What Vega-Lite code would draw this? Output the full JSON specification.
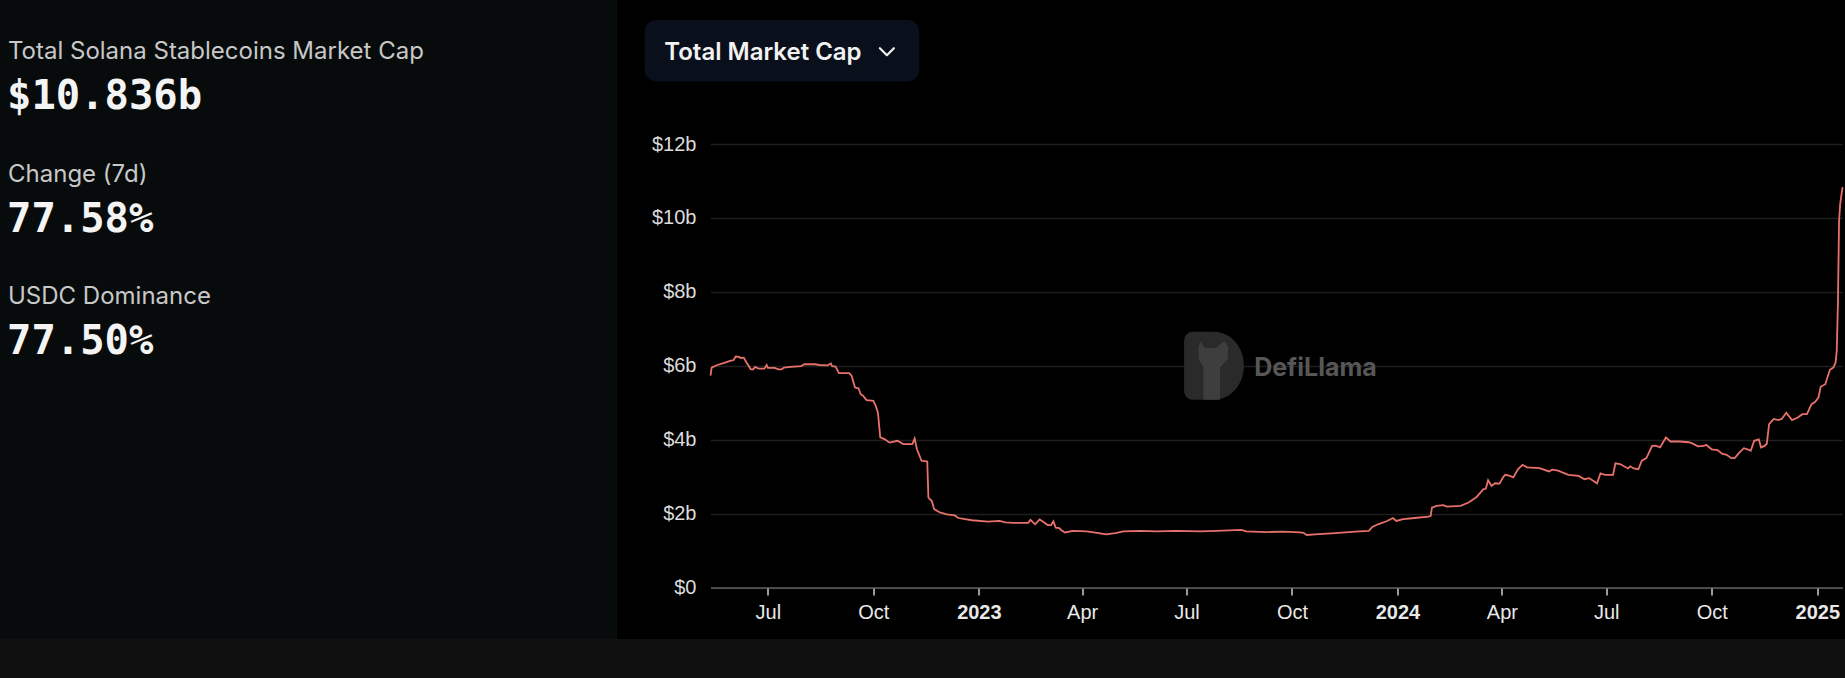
{
  "$schema": "https://vega.github.io/schema/vega-lite/v6.json",
  "background": "#000000",
  "padding": 0,
  "spacing": 0,
  "config": {
    "view": {"stroke": null},
    "concat": {"spacing": 0},
    "font": "Liberation Sans"
  },
  "vconcat": [
    {
      "spacing": 27.5,
      "hconcat": [
        {
          "width": 617,
          "height": 639,
          "view": {"fill": "#070b0b", "stroke": null},
          "data": {
            "values": [
              {"metric": "Total Solana Stablecoins Market Cap", "value": "$10.836b"},
              {"metric": "Change (7d)", "value": "77.58%"},
              {"metric": "USDC Dominance", "value": "77.50%"}
            ]
          },
          "layer": [
            {
              "mark": {"type": "text", "align": "left", "baseline": "alphabetic", "font": "Inter", "fontSize": 24, "fill": "#c8c8c8"},
              "encoding": {
                "y": {"field": "metric", "type": "nominal", "sort": null, "scale": {"type": "point", "padding": 0, "range": [59.3, 304.3]}, "axis": null},
                "x": {"value": 8},
                "text": {"field": "metric"}
              }
            },
            {
              "mark": {"type": "text", "align": "left", "baseline": "alphabetic", "font": "DejaVu Sans Mono", "fontSize": 40.5, "fontWeight": "bold", "fill": "#f4f4f4", "dy": 50},
              "encoding": {
                "y": {"field": "metric", "type": "nominal", "sort": null, "axis": null},
                "x": {"value": 7},
                "text": {"field": "value"}
              }
            }
          ]
        },
        {
          "spacing": 0,
          "vconcat": [
            {"width": 10, "height": 19.3, "data": {"values": []}, "mark": "point"},
            {
              "width": 274.8,
              "height": 61.4,
              "view": {"fill": "#0a0f1c", "cornerRadius": 12, "stroke": null},
              "data": {"values": [{"label": "Total Market Cap"}]},
              "layer": [
                {
                  "mark": {"type": "text", "align": "center", "baseline": "alphabetic", "dx": -19, "dy": 9, "font": "Inter", "fontSize": 24, "fontWeight": 600, "fill": "#f2f2f2"},
                  "encoding": {"text": {"field": "label"}}
                },
                {
                  "mark": {"type": "point", "shape": "M-1,-0.5L0,0.5L1,-0.5", "size": 196, "filled": false, "stroke": "#f2f2f2", "strokeWidth": 2.2, "opacity": 1, "xOffset": 105, "yOffset": 1, "strokeCap": "round", "strokeJoin": "round"},
                  "encoding": {}
                }
              ]
            },
            {"width": 10, "height": 51.6, "data": {"values": []}, "mark": "point"},
            {
              "spacing": 0,
              "hconcat": [
                {"width": 1, "height": 1, "data": {"values": []}, "mark": "point"},
                {
                  "width": 1132,
                  "height": 443.5,
                  "data": {
                    "values": [
                      {"date": "2022-05-12", "usd_bn": 5.73},
                      {"date": "2022-05-13", "usd_bn": 5.95},
                      {"date": "2022-05-18", "usd_bn": 6.02},
                      {"date": "2022-05-24", "usd_bn": 6.08},
                      {"date": "2022-05-29", "usd_bn": 6.13},
                      {"date": "2022-06-01", "usd_bn": 6.15},
                      {"date": "2022-06-03", "usd_bn": 6.25},
                      {"date": "2022-06-06", "usd_bn": 6.24},
                      {"date": "2022-06-07", "usd_bn": 6.21},
                      {"date": "2022-06-10", "usd_bn": 6.22},
                      {"date": "2022-06-12", "usd_bn": 6.11},
                      {"date": "2022-06-16", "usd_bn": 5.91},
                      {"date": "2022-06-18", "usd_bn": 5.90},
                      {"date": "2022-06-20", "usd_bn": 5.97},
                      {"date": "2022-06-23", "usd_bn": 5.92},
                      {"date": "2022-06-28", "usd_bn": 5.92},
                      {"date": "2022-06-30", "usd_bn": 6.02},
                      {"date": "2022-07-01", "usd_bn": 5.94},
                      {"date": "2022-07-07", "usd_bn": 5.94},
                      {"date": "2022-07-10", "usd_bn": 5.90},
                      {"date": "2022-07-13", "usd_bn": 5.90},
                      {"date": "2022-07-15", "usd_bn": 5.95},
                      {"date": "2022-07-21", "usd_bn": 5.97},
                      {"date": "2022-07-30", "usd_bn": 5.99},
                      {"date": "2022-08-02", "usd_bn": 6.04},
                      {"date": "2022-08-11", "usd_bn": 6.04},
                      {"date": "2022-08-15", "usd_bn": 6.02},
                      {"date": "2022-08-22", "usd_bn": 6.01},
                      {"date": "2022-08-25", "usd_bn": 6.06},
                      {"date": "2022-08-26", "usd_bn": 5.99},
                      {"date": "2022-08-29", "usd_bn": 5.98},
                      {"date": "2022-09-01", "usd_bn": 5.80},
                      {"date": "2022-09-04", "usd_bn": 5.80},
                      {"date": "2022-09-10", "usd_bn": 5.80},
                      {"date": "2022-09-12", "usd_bn": 5.73},
                      {"date": "2022-09-15", "usd_bn": 5.41},
                      {"date": "2022-09-18", "usd_bn": 5.39},
                      {"date": "2022-09-20", "usd_bn": 5.23},
                      {"date": "2022-09-22", "usd_bn": 5.19},
                      {"date": "2022-09-25", "usd_bn": 5.07},
                      {"date": "2022-10-01", "usd_bn": 5.05},
                      {"date": "2022-10-03", "usd_bn": 4.92},
                      {"date": "2022-10-05", "usd_bn": 4.73},
                      {"date": "2022-10-07", "usd_bn": 4.06},
                      {"date": "2022-10-11", "usd_bn": 4.01},
                      {"date": "2022-10-15", "usd_bn": 3.92},
                      {"date": "2022-10-22", "usd_bn": 3.97},
                      {"date": "2022-10-27", "usd_bn": 3.88},
                      {"date": "2022-11-04", "usd_bn": 3.88},
                      {"date": "2022-11-06", "usd_bn": 4.03},
                      {"date": "2022-11-08", "usd_bn": 3.74},
                      {"date": "2022-11-12", "usd_bn": 3.43},
                      {"date": "2022-11-17", "usd_bn": 3.41},
                      {"date": "2022-11-18", "usd_bn": 2.43},
                      {"date": "2022-11-21", "usd_bn": 2.34},
                      {"date": "2022-11-23", "usd_bn": 2.12},
                      {"date": "2022-11-28", "usd_bn": 2.03},
                      {"date": "2022-12-04", "usd_bn": 1.98},
                      {"date": "2022-12-11", "usd_bn": 1.95},
                      {"date": "2022-12-14", "usd_bn": 1.88},
                      {"date": "2022-12-26", "usd_bn": 1.82},
                      {"date": "2023-01-09", "usd_bn": 1.78},
                      {"date": "2023-01-19", "usd_bn": 1.80},
                      {"date": "2023-01-24", "usd_bn": 1.76},
                      {"date": "2023-01-31", "usd_bn": 1.75},
                      {"date": "2023-02-13", "usd_bn": 1.75},
                      {"date": "2023-02-15", "usd_bn": 1.83},
                      {"date": "2023-02-19", "usd_bn": 1.71},
                      {"date": "2023-02-23", "usd_bn": 1.84},
                      {"date": "2023-02-26", "usd_bn": 1.78},
                      {"date": "2023-03-02", "usd_bn": 1.69},
                      {"date": "2023-03-05", "usd_bn": 1.69},
                      {"date": "2023-03-07", "usd_bn": 1.79},
                      {"date": "2023-03-09", "usd_bn": 1.62},
                      {"date": "2023-03-12", "usd_bn": 1.61},
                      {"date": "2023-03-14", "usd_bn": 1.55},
                      {"date": "2023-03-17", "usd_bn": 1.49},
                      {"date": "2023-03-24", "usd_bn": 1.53},
                      {"date": "2023-04-05", "usd_bn": 1.52},
                      {"date": "2023-04-14", "usd_bn": 1.48},
                      {"date": "2023-04-22", "usd_bn": 1.44},
                      {"date": "2023-04-30", "usd_bn": 1.47},
                      {"date": "2023-05-07", "usd_bn": 1.52},
                      {"date": "2023-05-21", "usd_bn": 1.53},
                      {"date": "2023-06-05", "usd_bn": 1.52},
                      {"date": "2023-06-22", "usd_bn": 1.53},
                      {"date": "2023-07-13", "usd_bn": 1.52},
                      {"date": "2023-07-27", "usd_bn": 1.53},
                      {"date": "2023-08-18", "usd_bn": 1.56},
                      {"date": "2023-08-22", "usd_bn": 1.52},
                      {"date": "2023-09-09", "usd_bn": 1.50},
                      {"date": "2023-09-23", "usd_bn": 1.51},
                      {"date": "2023-10-08", "usd_bn": 1.49},
                      {"date": "2023-10-11", "usd_bn": 1.48},
                      {"date": "2023-10-14", "usd_bn": 1.42},
                      {"date": "2023-10-21", "usd_bn": 1.44},
                      {"date": "2023-11-08", "usd_bn": 1.47},
                      {"date": "2023-11-25", "usd_bn": 1.51},
                      {"date": "2023-12-07", "usd_bn": 1.53},
                      {"date": "2023-12-10", "usd_bn": 1.64},
                      {"date": "2023-12-15", "usd_bn": 1.71},
                      {"date": "2023-12-23", "usd_bn": 1.80},
                      {"date": "2023-12-28", "usd_bn": 1.88},
                      {"date": "2023-12-31", "usd_bn": 1.80},
                      {"date": "2024-01-06", "usd_bn": 1.85},
                      {"date": "2024-01-16", "usd_bn": 1.88},
                      {"date": "2024-01-28", "usd_bn": 1.92},
                      {"date": "2024-01-30", "usd_bn": 1.94},
                      {"date": "2024-01-31", "usd_bn": 2.16},
                      {"date": "2024-02-04", "usd_bn": 2.21},
                      {"date": "2024-02-10", "usd_bn": 2.23},
                      {"date": "2024-02-13", "usd_bn": 2.19},
                      {"date": "2024-02-25", "usd_bn": 2.21},
                      {"date": "2024-03-03", "usd_bn": 2.30},
                      {"date": "2024-03-10", "usd_bn": 2.45},
                      {"date": "2024-03-16", "usd_bn": 2.66},
                      {"date": "2024-03-18", "usd_bn": 2.67},
                      {"date": "2024-03-20", "usd_bn": 2.90},
                      {"date": "2024-03-23", "usd_bn": 2.75},
                      {"date": "2024-03-26", "usd_bn": 2.82},
                      {"date": "2024-03-30", "usd_bn": 2.81},
                      {"date": "2024-04-02", "usd_bn": 2.98},
                      {"date": "2024-04-04", "usd_bn": 3.05},
                      {"date": "2024-04-08", "usd_bn": 3.02},
                      {"date": "2024-04-11", "usd_bn": 2.98},
                      {"date": "2024-04-15", "usd_bn": 3.20},
                      {"date": "2024-04-19", "usd_bn": 3.32},
                      {"date": "2024-04-23", "usd_bn": 3.25},
                      {"date": "2024-05-04", "usd_bn": 3.23},
                      {"date": "2024-05-12", "usd_bn": 3.14},
                      {"date": "2024-05-15", "usd_bn": 3.19},
                      {"date": "2024-05-20", "usd_bn": 3.16},
                      {"date": "2024-05-29", "usd_bn": 3.05},
                      {"date": "2024-06-07", "usd_bn": 3.02},
                      {"date": "2024-06-12", "usd_bn": 2.93},
                      {"date": "2024-06-16", "usd_bn": 2.96},
                      {"date": "2024-06-23", "usd_bn": 2.82},
                      {"date": "2024-06-26", "usd_bn": 3.09},
                      {"date": "2024-06-30", "usd_bn": 3.05},
                      {"date": "2024-07-07", "usd_bn": 3.05},
                      {"date": "2024-07-09", "usd_bn": 3.36},
                      {"date": "2024-07-13", "usd_bn": 3.34},
                      {"date": "2024-07-20", "usd_bn": 3.22},
                      {"date": "2024-07-22", "usd_bn": 3.28},
                      {"date": "2024-07-25", "usd_bn": 3.22},
                      {"date": "2024-07-29", "usd_bn": 3.20},
                      {"date": "2024-08-01", "usd_bn": 3.43},
                      {"date": "2024-08-05", "usd_bn": 3.50},
                      {"date": "2024-08-10", "usd_bn": 3.83},
                      {"date": "2024-08-13", "usd_bn": 3.84},
                      {"date": "2024-08-17", "usd_bn": 3.79},
                      {"date": "2024-08-22", "usd_bn": 4.06},
                      {"date": "2024-08-26", "usd_bn": 3.95},
                      {"date": "2024-09-03", "usd_bn": 3.95},
                      {"date": "2024-09-11", "usd_bn": 3.93},
                      {"date": "2024-09-14", "usd_bn": 3.90},
                      {"date": "2024-09-19", "usd_bn": 3.82},
                      {"date": "2024-09-24", "usd_bn": 3.83},
                      {"date": "2024-09-26", "usd_bn": 3.86},
                      {"date": "2024-10-01", "usd_bn": 3.74},
                      {"date": "2024-10-06", "usd_bn": 3.72},
                      {"date": "2024-10-10", "usd_bn": 3.62},
                      {"date": "2024-10-14", "usd_bn": 3.59},
                      {"date": "2024-10-18", "usd_bn": 3.50},
                      {"date": "2024-10-21", "usd_bn": 3.50},
                      {"date": "2024-10-25", "usd_bn": 3.65},
                      {"date": "2024-10-29", "usd_bn": 3.77},
                      {"date": "2024-11-01", "usd_bn": 3.74},
                      {"date": "2024-11-04", "usd_bn": 3.70},
                      {"date": "2024-11-07", "usd_bn": 3.97},
                      {"date": "2024-11-11", "usd_bn": 4.01},
                      {"date": "2024-11-13", "usd_bn": 3.79},
                      {"date": "2024-11-16", "usd_bn": 3.83},
                      {"date": "2024-11-18", "usd_bn": 3.89},
                      {"date": "2024-11-20", "usd_bn": 4.42},
                      {"date": "2024-11-24", "usd_bn": 4.56},
                      {"date": "2024-11-28", "usd_bn": 4.53},
                      {"date": "2024-12-01", "usd_bn": 4.56},
                      {"date": "2024-12-05", "usd_bn": 4.73},
                      {"date": "2024-12-10", "usd_bn": 4.53},
                      {"date": "2024-12-15", "usd_bn": 4.60},
                      {"date": "2024-12-19", "usd_bn": 4.69},
                      {"date": "2024-12-23", "usd_bn": 4.69},
                      {"date": "2024-12-27", "usd_bn": 4.96},
                      {"date": "2024-12-30", "usd_bn": 5.02},
                      {"date": "2025-01-02", "usd_bn": 5.14},
                      {"date": "2025-01-04", "usd_bn": 5.43},
                      {"date": "2025-01-08", "usd_bn": 5.50},
                      {"date": "2025-01-12", "usd_bn": 5.89},
                      {"date": "2025-01-15", "usd_bn": 5.95},
                      {"date": "2025-01-17", "usd_bn": 6.09},
                      {"date": "2025-01-18", "usd_bn": 6.41},
                      {"date": "2025-01-19", "usd_bn": 7.67},
                      {"date": "2025-01-20", "usd_bn": 9.92},
                      {"date": "2025-01-21", "usd_bn": 10.38},
                      {"date": "2025-01-23", "usd_bn": 10.836}
                    ]
                  },
                  "layer": [
                    {
                      "mark": {"type": "line", "color": "#e8716b", "strokeWidth": 1.8},
                      "encoding": {
                        "x": {
                          "field": "date",
                          "type": "temporal",
                          "scale": {"type": "utc", "nice": false},
                          "axis": {
                            "title": null,
                            "grid": false,
                            "domain": true,
                            "domainColor": "#5e5e5e",
                            "domainWidth": 1.5,
                            "ticks": true,
                            "tickColor": "#cfcfcf",
                            "tickSize": 7.5,
                            "tickWidth": 1.5,
                            "tickCount": {"interval": "month", "step": 3},
                            "labelPadding": 7,
                            "labelFont": "Liberation Sans",
                            "labelFontSize": 20,
                            "labelColor": "#e8e8e8",
                            "labelFlush": false,
                            "labelOverlap": false,
                            "labelExpr": "utcmonth(datum.value) == 0 ? utcFormat(datum.value, '%Y') : utcFormat(datum.value, '%b')",
                            "labelFontWeight": {"condition": {"test": "utcmonth(datum.value) == 0", "value": "bold"}, "value": "normal"}
                          }
                        },
                        "y": {
                          "field": "usd_bn",
                          "type": "quantitative",
                          "scale": {"domain": [0, 12], "nice": false},
                          "axis": {
                            "title": null,
                            "values": [0, 2, 4, 6, 8, 10, 12],
                            "labelExpr": "datum.value == 0 ? '$0' : '$' + datum.value + 'b'",
                            "domain": false,
                            "ticks": false,
                            "grid": true,
                            "gridColor": "#1f1f1f",
                            "gridWidth": 1.5,
                            "labelPadding": 14.5,
                            "minExtent": 65,
                            "maxExtent": 65,
                            "labelFont": "Liberation Sans",
                            "labelFontSize": 20,
                            "labelColor": "#dcdcdc"
                          }
                        }
                      }
                    },
                    {
                      "data": {"values": [{"brand": "DefiLlama"}]},
                      "layer": [
                        {
                          "mark": {"type": "point", "shape": "M-0.88,-0.72Q-0.88,-1,-0.6,-1L0,-1A0.88,1,0,0,1,0,1L-0.6,1Q-0.88,1,-0.88,0.72Z", "size": 4624, "filled": true, "fill": "#2a2a2a", "opacity": 1, "strokeWidth": 0},
                          "encoding": {
                            "x": {"datum": {"year": 2023, "month": 7, "date": 25, "utc": true}, "type": "temporal"},
                            "y": {"datum": 6.0, "type": "quantitative"}
                          }
                        },
                        {
                          "mark": {"type": "point", "shape": "M-0.31,1L-0.31,0.05L-0.45,-0.2L-0.46,-0.55L-0.38,-0.72L-0.28,-0.52L0.05,-0.52L0.3,-0.72L0.42,-0.55L0.4,-0.2L0.18,0.05L0.18,1Z", "size": 4624, "filled": true, "fill": "#3e3e3e", "opacity": 1, "strokeWidth": 0},
                          "encoding": {
                            "x": {"datum": {"year": 2023, "month": 7, "date": 25, "utc": true}, "type": "temporal"},
                            "y": {"datum": 6.0, "type": "quantitative"}
                          }
                        },
                        {
                          "mark": {"type": "text", "align": "left", "baseline": "alphabetic", "font": "Inter", "fontWeight": 700, "fontSize": 25, "fill": "#575757"},
                          "encoding": {
                            "x": {"datum": {"year": 2023, "month": 8, "date": 29, "utc": true}, "type": "temporal"},
                            "y": {"datum": 5.73, "type": "quantitative"},
                            "text": {"field": "brand"}
                          }
                        }
                      ]
                    }
                  ]
                }
              ]
            }
          ]
        }
      ]
    },
    {"width": 1845, "height": 39, "view": {"fill": "#101010", "stroke": null}, "data": {"values": []}, "mark": "point"}
  ]
}
